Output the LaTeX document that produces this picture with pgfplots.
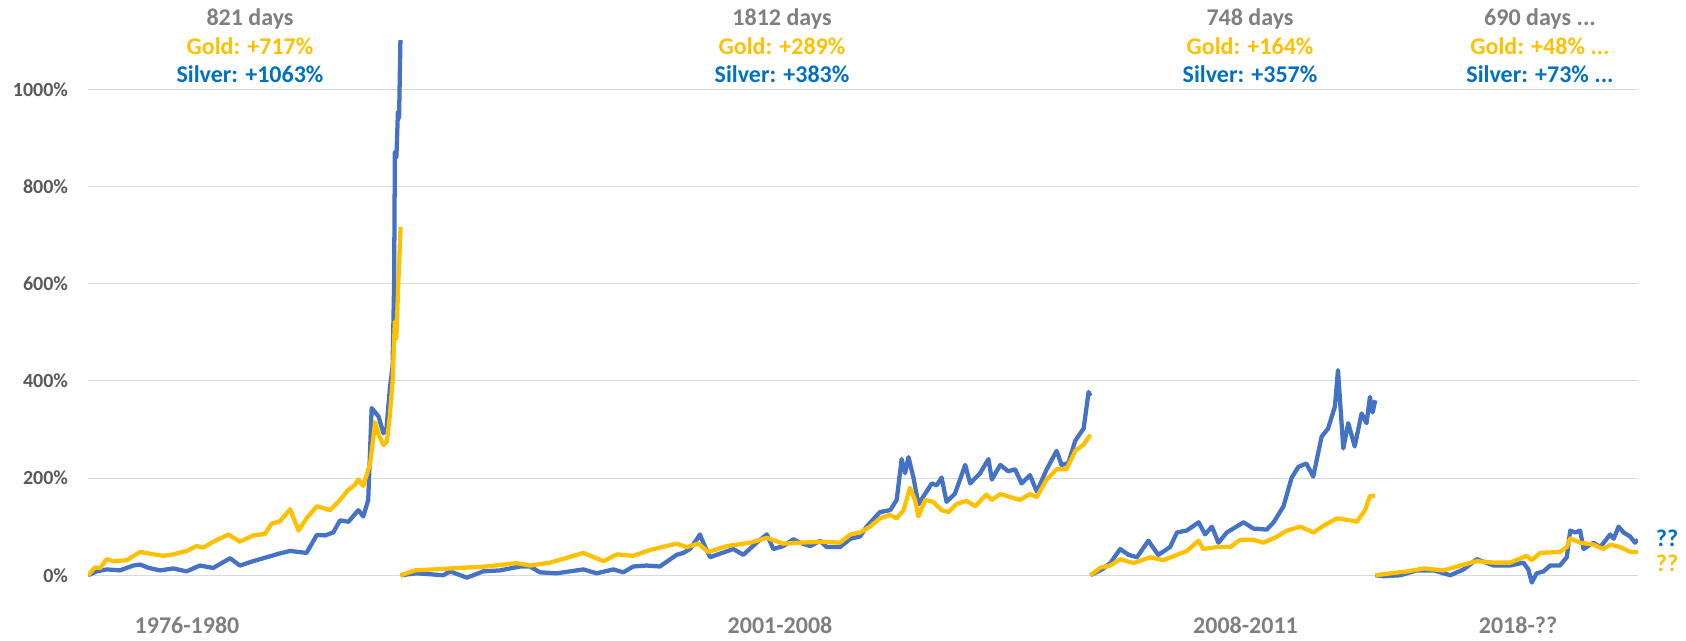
\documentclass[border=0pt]{standalone}
\usepackage{fontspec}
\setmainfont{Carlito}
\usepackage{pgfplots}
\pgfplotsset{compat=1.18}

\definecolor{goldc}{HTML}{FFC000}
\definecolor{silverc}{HTML}{4472C4}
\definecolor{silvertxt}{HTML}{0070C0}
\definecolor{graytxt}{HTML}{7F7F7F}
\definecolor{ticktxt}{HTML}{595959}
\definecolor{gridc}{HTML}{D9D9D9}

\begin{document}
\begin{tikzpicture}
\path[use as bounding box] (0,0) rectangle (1264.5pt,480pt);
\begin{axis}[
    at={(66pt,33.98pt)}, anchor=south west,
    scale only axis,
    width=1162.5pt,
    height=415.5pt,
    xmin=0, xmax=4071,
    ymin=-40, ymax=1100,
    axis line style={draw=none},
    xtick=\empty,
    ytick={0,200,400,600,800,1000},
    yticklabels={0\%,200\%,400\%,600\%,800\%,1000\%},
    major tick length=0pt,
    yticklabel style={font=\fontsize{15}{18}\selectfont\bfseries, text=ticktxt, inner sep=0pt, xshift=-14.8pt},
    ymajorgrids,
    grid style={gridc, line width=0.75pt},
    every axis plot/.append style={line width=3.2pt, line join=round, mark=none},
]
% silver (days since start of run, % gain)
\addplot[silverc] coordinates {
    (0,0) (23,8) (49,12) (84,10) (119,20) (137,22) (160,15) (189,10) (224,14) (259,8)
    (294,20) (329,15) (373,35) (399,20) (434,29) (469,37) (504,45) (531,50) (574,46)
    (601,83) (623,82) (644,88) (662,113) (684,110) (710,134) (723,121) (736,155)
    (745,344) (763,327) (776,292) (784,302) (793,386) (800,430) (804,600) (806,871)
    (810,860) (814,954) (817,940) (821,1120)
};
\addplot[silverc] coordinates {
    (821,0) (862,4) (900,2) (933,0) (951,8) (995,-5) (1038,8) (1082,10) (1135,18)
    (1161,18) (1187,6) (1231,4) (1301,12) (1336,4) (1380,12) (1406,6) (1432,18)
    (1467,20) (1502,18) (1546,42) (1564,46) (1581,54) (1600,75) (1607,84) (1620,60)
    (1634,37) (1651,42) (1695,54) (1721,42) (1756,67) (1783,84) (1800,54) (1826,60)
    (1853,74) (1870,67) (1897,60) (1923,71) (1940,58) (1975,58) (2002,75) (2028,80)
    (2045,100) (2080,130) (2107,134) (2124,155) (2137,239) (2146,210) (2155,243)
    (2168,201) (2181,146) (2199,168) (2216,189) (2229,185) (2242,201) (2255,151)
    (2277,168) (2304,227) (2317,189) (2343,210) (2365,239) (2374,197) (2396,227)
    (2417,214) (2435,218) (2452,189) (2474,206) (2492,172) (2518,218) (2544,256)
    (2557,227) (2575,231) (2593,277) (2615,302) (2628,377) (2633,369)
};
\addplot[silverc] coordinates {
    (2633,0) (2663,12) (2685,25) (2711,54) (2733,42) (2755,37) (2785,71) (2811,42)
    (2842,58) (2860,88) (2886,92) (2917,109) (2934,84) (2952,100) (2969,67) (2991,88)
    (3035,109) (3061,96) (3096,94) (3114,109) (3140,142) (3161,200) (3179,223)
    (3200,230) (3218,203) (3240,285) (3257,302) (3275,347) (3283,422) (3297,261)
    (3310,313) (3327,265) (3345,333) (3358,313) (3367,367) (3374,335) (3381,360)
};
\addplot[silverc] coordinates {
    (3381,0) (3403,-2) (3447,0) (3490,10) (3534,10) (3578,0) (3613,12) (3648,33)
    (3692,20) (3735,20) (3770,26) (3783,12) (3792,-15) (3805,4) (3823,8) (3840,20)
    (3866,20) (3884,37) (3893,92) (3906,88) (3919,92) (3928,54) (3954,67) (3972,58)
    (3998,84) (4007,75) (4020,100) (4033,88) (4050,80) (4063,67) (4071,73)
};
% gold
\addplot[goldc] coordinates {
    (0,0) (18,16) (32,15) (49,33) (67,29) (102,31) (137,48) (172,43) (198,40) (224,43)
    (259,50) (285,60) (303,57) (329,69) (369,84) (399,69) (434,82) (465,85) (482,106)
    (504,111) (531,136) (553,92) (574,117) (601,142) (636,134) (662,155) (684,176)
    (700,185) (710,197) (723,184) (741,230) (749,280) (754,315) (763,290) (776,268)
    (785,275) (793,330) (800,400) (806,522) (810,488) (815,600) (821,717)
};
\addplot[goldc] coordinates {
    (821,0) (859,10) (951,14) (1047,18) (1126,25) (1161,20) (1214,26) (1301,46)
    (1354,29) (1389,43) (1432,40) (1476,52) (1546,65) (1573,58) (1603,65) (1629,48)
    (1678,60) (1739,67) (1783,77) (1826,65) (1870,67) (1923,69) (1975,67) (2002,84)
    (2028,88) (2054,100) (2080,117) (2107,124) (2124,117) (2142,134) (2159,180)
    (2172,155) (2181,121) (2199,155) (2220,151) (2242,134) (2260,130) (2282,147)
    (2308,153) (2330,142) (2360,166) (2374,155) (2396,167) (2422,161) (2448,155)
    (2474,167) (2492,161) (2518,197) (2544,218) (2570,218) (2593,256) (2615,269)
    (2633,289)
};
\addplot[goldc] coordinates {
    (2633,0) (2660,16) (2685,20) (2711,33) (2746,25) (2790,37) (2825,31) (2860,42)
    (2886,50) (2917,71) (2929,54) (2965,58) (3000,58) (3026,73) (3061,73) (3087,67)
    (3122,79) (3149,92) (3184,100) (3219,88) (3245,102) (3280,117) (3315,113)
    (3333,110) (3354,134) (3367,163) (3381,164)
};
\addplot[goldc] coordinates {
    (3381,0) (3422,4) (3465,8) (3509,14) (3561,10) (3604,20) (3648,29) (3692,26)
    (3735,26) (3779,40) (3792,31) (3814,46) (3866,48) (3884,58) (3893,76) (3919,67)
    (3954,63) (3980,54) (3998,63) (4024,58) (4050,48) (4071,48)
};
\end{axis}

\begin{scope}[x=0.75pt, y=0.75pt,
    every node/.style={font=\fontsize{18}{22}\selectfont\bfseries, inner sep=0pt, anchor=base}]
% period summaries
\node[text=graytxt]   at (250,614)   {821 days};
\node[text=goldc]     at (250,585.5) {Gold: +717\%};
\node[text=silvertxt] at (250,557.5) {Silver: +1063\%};
\node[text=graytxt]   at (782,614)   {1812 days};
\node[text=goldc]     at (782,585.5) {Gold: +289\%};
\node[text=silvertxt] at (782,557.5) {Silver: +383\%};
\node[text=graytxt]   at (1250,614)   {748 days};
\node[text=goldc]     at (1250,585.5) {Gold: +164\%};
\node[text=silvertxt] at (1250,557.5) {Silver: +357\%};
\node[text=graytxt]   at (1540,614)   {690 days ...};
\node[text=goldc]     at (1540,585.5) {Gold: +48\% ...};
\node[text=silvertxt] at (1540,557.5) {Silver: +73\% ...};
% period names
\node[text=graytxt] at (187,7)    {1976-1980};
\node[text=graytxt] at (780,7)    {2001-2008};
\node[text=graytxt] at (1245.5,7) {2008-2011};
\node[text=graytxt] at (1518,7)   {2018-??};
% open ends
\node[text=silvertxt, anchor=center] at (1667,102) {??};
\node[text=goldc, anchor=center]     at (1667,77)  {??};
\end{scope}
\end{tikzpicture}
\end{document}
